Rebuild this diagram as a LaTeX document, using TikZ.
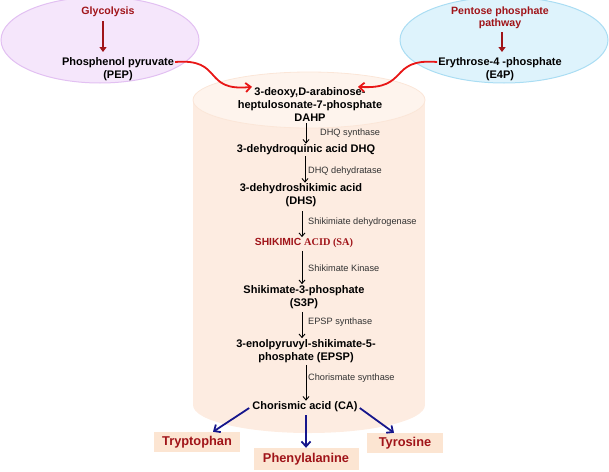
\documentclass[tikz,border=0pt]{standalone}
\usepackage{fontspec}
\setmainfont{Liberation Sans}
\newfontfamily\serifx{Liberation Serif}
\usetikzlibrary{arrows.meta,calc}
\definecolor{dred}{RGB}{160,20,25}
\definecolor{bred}{RGB}{232,22,22}
\definecolor{navyb}{RGB}{22,22,140}
\definecolor{lavfill}{RGB}{245,230,251}
\definecolor{lavline}{RGB}{226,192,242}
\definecolor{bluefill}{RGB}{222,243,252}
\definecolor{blueline}{RGB}{170,221,243}
\definecolor{peach}{RGB}{253,236,225}
\definecolor{peachtop}{RGB}{254,244,237}
\definecolor{peachedge}{RGB}{251,230,216}
\definecolor{boxfill}{RGB}{252,229,210}
\definecolor{enz}{RGB}{50,50,50}
\tikzset{
  met/.style={font=\bfseries\fontsize{11}{13}\selectfont, align=center, inner sep=1pt, text=black},
  src/.style={font=\bfseries\fontsize{10.6}{12.5}\selectfont, align=center, inner sep=1pt, text=dred},
  enzlab/.style={font=\fontsize{9.2}{10}\selectfont, anchor=west, inner sep=0pt, text=enz},
  prod/.style={font=\bfseries\fontsize{12.8}{14}\selectfont, text=dred, fill=boxfill, minimum height=20pt, inner sep=0pt},
  steparrow/.style={draw=black, line width=0.9pt, -{Straight Barb[length=3.5pt,width=6pt]}},
  srcarrow/.style={draw=dred, line width=2.6pt, -{Triangle[length=5pt,width=7pt]}},
  redarrow/.style={draw=bred, line width=1.8pt, -{Straight Barb[length=5pt,width=9pt]}},
  bluearrow/.style={draw=navyb, line width=1.8pt, -{Straight Barb[length=5pt,width=9pt]}}
}
\begin{document}
\begin{tikzpicture}[x=1pt,y=-1pt]
\useasboundingbox (0,0) rectangle (609,471);
% source ellipses
\fill[lavfill, draw=lavline, line width=1pt] (100,40) ellipse [x radius=99, y radius=43];
\fill[bluefill, draw=blueline, line width=1pt] (504,40) ellipse [x radius=104, y radius=43];
% cylinder
\fill[peach] (193,100) rectangle (425,405);
\fill[peach] (309,405) ellipse [x radius=116, y radius=28];
\fill[peachtop, draw=peachedge, line width=0.8pt] (309,100) ellipse [x radius=116, y radius=28];
% source texts
\node[src] (glyc) at (108,12) {Glycolysis};
\node[met] (pep) at (118,69) {Phosphenol pyruvate\\(PEP)};
\node[src] (ppp) at (500,18) {Pentose phosphate\\pathway};
\node[met] (e4p) at (500,69) {Erythrose-4 -phosphate\\(E4P)};
\draw[srcarrow] (glyc.south -| 103,0) ++(0,3) -- (103,52);
\draw[srcarrow] (ppp.south -| 502,0) ++(0,2) -- (502,52);
% pathway
\node[met] (dahp) at (310,105) {3-deoxy,D-arabinose-\\heptulosonate-7-phosphate\\DAHP};
\node[met] (dhq) at (306,150) {3-dehydroquinic acid DHQ};
\node[met] (dhs) at (301,195.5) {3-dehydroshikimic acid\\(DHS)};
\node[font=\bfseries\fontsize{10.3}{12}\selectfont, text=dred, inner sep=1pt] (sa) at (304,243) {SHIKIMIC {\serifx ACID (SA)}};
\node[met] (s3p) at (304,297) {Shikimate-3-phosphate\\(S3P)};
\node[met] (epsp) at (306,351) {3-enolpyruvyl-shikimate-5-\\phosphate (EPSP)};
\node[met] (ca) at (305,407) {Chorismic acid (CA)};
% enzyme labels
\node[enzlab] (e1) at (320,133) {DHQ synthase};
\node[enzlab] (e2) at (308,171) {DHQ dehydratase};
\node[enzlab] (e3) at (308,222) {Shikimiate dehydrogenase};
\node[enzlab] (e4) at (308,268) {Shikimate Kinase};
\node[enzlab] (e5) at (308,322) {EPSP synthase};
\node[enzlab] (e6) at (308,378) {Chorismate synthase};
% step arrows
\draw[steparrow] (dahp.south -| 306,0) -- (dhq.north -| 306,0);
\draw[steparrow] (dhq.south -| 305,0) -- (dhs.north -| 305,0);
\draw[steparrow] (dhs.south -| 302,0) ++(0,3) -- (sa.north -| 302,0);
\draw[steparrow] (sa.south -| 302,0) ++(0,2) -- (s3p.north -| 302,0);
\draw[steparrow] (s3p.south -| 302,0) ++(0,2) -- (epsp.north -| 302,0);
\draw[steparrow] (epsp.south -| 306,0) ++(0,1) -- (ca.north -| 306,0);
% red curved arrows
\draw[redarrow] (pep.east |- 0,62) .. controls (224,58) and (202,92) .. (dahp.north west -| 252,93);
\draw[redarrow] (e4p.west |- 0,62) .. controls (388,58) and (410,90) .. (dahp.north east -| 358,94);
% products
\node[prod, minimum width=86pt] (trp) at (197,442) {Tryptophan};
\node[prod, minimum width=105pt, minimum height=22pt] (phe) at (306,459) {Phenylalanine};
\node[prod, minimum width=76pt] (tyr) at (405,443) {Tyrosine};
\draw[bluearrow] (ca.west) ++(-2,1) -- (trp.north -| 213,0);
\draw[bluearrow] (ca.south) ++(1,2) -- (phe.north);
\draw[bluearrow] (ca.east) ++(1,1) -- (tyr.north -| 394,0);
\end{tikzpicture}
\end{document}
